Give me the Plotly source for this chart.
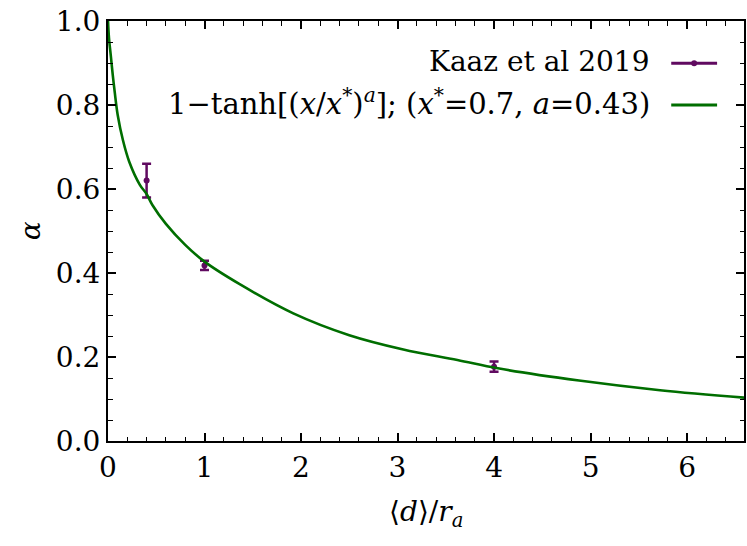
import plotly.graph_objects as go

# Data
kaaz_x = [0.4, 1.0, 4.0]
kaaz_y = [0.62, 0.418, 0.177]
kaaz_err = [0.04, 0.011, 0.012]

fit_x = [0, 0.01, 0.03, 0.05, 0.07, 0.1, 0.155, 0.22, 0.33, 0.4, 0.46, 0.6, 0.8,
         1.0, 1.36, 1.92, 2.5, 3.06, 3.62, 4.04, 4.88, 5.72, 6.6]
fit_y = [1.0, 0.96, 0.915, 0.87, 0.83, 0.777, 0.716, 0.665, 0.61, 0.588, 0.562, 0.517, 0.467,
         0.427, 0.374, 0.304, 0.252, 0.218, 0.193, 0.173, 0.144, 0.121, 0.103]

x_ticks = [0, 1, 2, 3, 4, 5, 6]
y_ticks = [0.0, 0.2, 0.4, 0.6, 0.8, 1.0]
y_tick_labels = ["0.0", "0.2", "0.4", "0.6", "0.8", "1.0"]

legend_labels = ["Kaaz et al 2019",
                 "1\u2212tanh[(<i>x</i>/<i>x</i><sup>*</sup>)<sup><i>a</i></sup>]; "
                 "(<i>x</i><sup>*</sup>=0.7, <i>a</i>=0.43)"]

PURPLE = "#600a60"
GREEN = "#006e00"
FONT = "DejaVu Serif"

W, H = 747, 546
L, R, T, B = 108, 1, 21, 105
PW, PH = W - L - R, H - T - B


def px(xp):
    return (xp - L) / PW


def py(yp):
    return (T + PH - yp) / PH


fig = go.Figure()
fig.add_trace(go.Scatter(
    x=kaaz_x, y=kaaz_y, mode="markers",
    marker=dict(color=PURPLE, size=6),
    error_y=dict(type="data", array=kaaz_err, visible=True, color=PURPLE,
                 thickness=2.5, width=4.5),
    showlegend=False,
))
fig.add_trace(go.Scatter(
    x=fit_x, y=fit_y, mode="lines",
    line=dict(color=GREEN, width=2.6, shape="spline", smoothing=1.0),
    showlegend=False,
))

axis_common = dict(
    showline=True, linecolor="black", linewidth=2, mirror="allticks",
    ticks="inside", ticklen=8, tickwidth=1.5, tickcolor="black",
    showgrid=False, zeroline=False,
    tickfont=dict(family=FONT, size=28, color="black"),
)
fig.update_xaxes(range=[0, 6.59], tickvals=x_ticks,
                 minor=dict(dtick=0.2, ticks="inside", ticklen=4.5, tickwidth=1.2,
                            tickcolor="black", showgrid=False),
                 **axis_common)
fig.update_yaxes(range=[0, 1.0], tickvals=y_ticks, ticktext=y_tick_labels,
                 minor=dict(dtick=0.05, ticks="inside", ticklen=4.5, tickwidth=1.2,
                            tickcolor="black", showgrid=False),
                 **axis_common)

annotations = [
    dict(text="\u27e8<i>d</i>\u27e9/<i>r</i><sub><i>a</i></sub>", xref="paper", yref="paper",
         x=px(427), y=py(513), xanchor="center", yanchor="middle", showarrow=False,
         font=dict(family=FONT, size=28, color="black")),
    dict(text="<i>\u03b1</i>", xref="paper", yref="paper", x=px(30), y=py(231),
         xanchor="center", yanchor="middle", textangle=-90, showarrow=False,
         font=dict(family=FONT, size=28, color="black")),
    dict(text=legend_labels[0], xref="paper", yref="paper", x=px(654), y=py(62),
         xanchor="right", yanchor="middle", showarrow=False,
         font=dict(family=FONT, size=28, color="black")),
    dict(text=legend_labels[1], xref="paper", yref="paper", x=px(654), y=py(102),
         xanchor="right", yanchor="middle", showarrow=False,
         font=dict(family=FONT, size=29, color="black")),
]

shapes = [
    dict(type="line", xref="paper", yref="paper", x0=px(673), x1=px(719), y0=py(63.3), y1=py(63.3),
         line=dict(color=PURPLE, width=3)),
    dict(type="circle", xref="paper", yref="paper", x0=px(693), x1=px(699), y0=py(66.3), y1=py(60.3),
         fillcolor=PURPLE, line=dict(color=PURPLE, width=0)),
    dict(type="line", xref="paper", yref="paper", x0=px(673), x1=px(719), y0=py(105), y1=py(105),
         line=dict(color=GREEN, width=3)),
]

fig.update_layout(
    width=W, height=H,
    margin=dict(l=L, r=R, t=T, b=B),
    paper_bgcolor="white", plot_bgcolor="white",
    annotations=annotations, shapes=shapes,
    showlegend=False,
)

fig.write_html("out.html",
               config={"displayModeBar": False},
               post_script="document.body.style.margin='0';"
                           "document.body.style.overflow='hidden';")
